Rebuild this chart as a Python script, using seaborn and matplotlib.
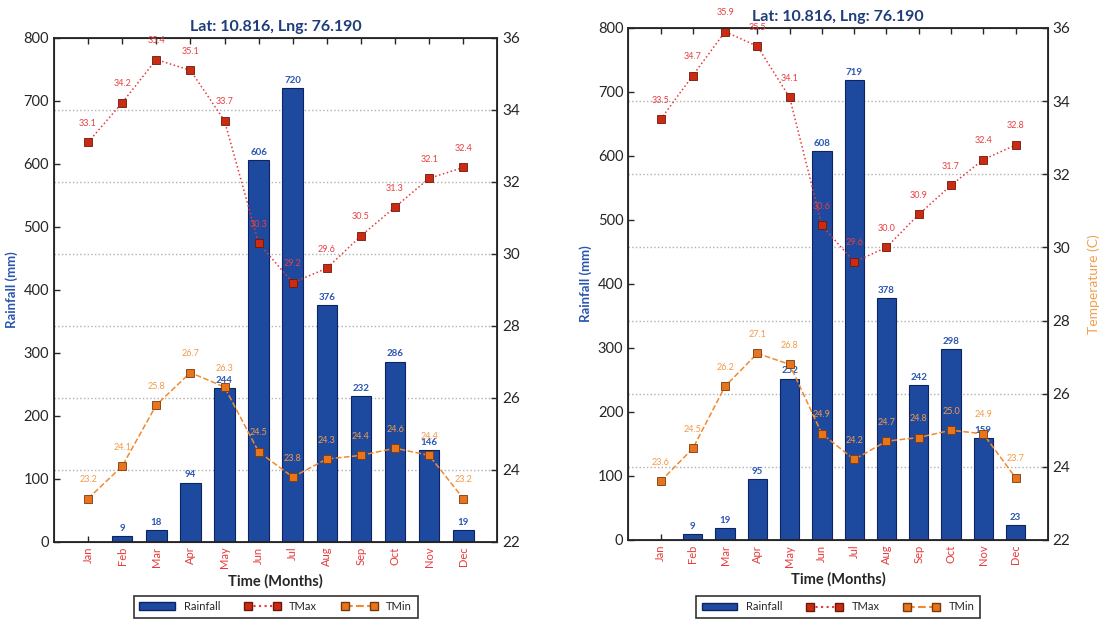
import numpy as np
import matplotlib
matplotlib.use('Agg')
import matplotlib.pyplot as plt
import seaborn as sns
from matplotlib.patches import Patch
from matplotlib.lines import Line2D

months = ['Jan', 'Feb', 'Mar', 'Apr', 'May', 'Jun',
          'Jul', 'Aug', 'Sep', 'Oct', 'Nov', 'Dec']
title = 'Lat: 10.816, Lng: 76.190'

# left panel
rain_a = [0, 9, 18, 94, 244, 606, 720, 376, 232, 286, 146, 19]
tmax_a = [33.1, 34.2, 35.4, 35.1, 33.7, 30.3, 29.2, 29.6, 30.5, 31.3, 32.1, 32.4]
tmin_a = [23.2, 24.1, 25.8, 26.7, 26.3, 24.5, 23.8, 24.3, 24.4, 24.6, 24.4, 23.2]

# right panel
rain_b = [0, 9, 19, 95, 252, 608, 719, 378, 242, 298, 159, 23]
tmax_b = [33.5, 34.7, 35.9, 35.5, 34.1, 30.6, 29.6, 30.0, 30.9, 31.7, 32.4, 32.8]
tmin_b = [23.6, 24.5, 26.2, 27.1, 26.8, 24.9, 24.2, 24.7, 24.8, 25.0, 24.9, 23.7]

temp_ticks = [22, 24, 26, 28, 30, 32, 34, 36]
rain_ticks = [0, 100, 200, 300, 400, 500, 600, 700, 800]

bar_col = '#1d4a9e'
bar_edge = '#0c2466'
max_col = '#e8383a'
max_face = '#cc2a12'
min_col = '#f08a30'
min_face = '#e8741e'

sns.set_style('ticks')
plt.rcParams['font.family'] = ['Lato', 'DejaVu Sans']

fig = plt.figure(figsize=(11.1, 6.22), dpi=100)


def draw_panel(rect, rain, tmax, tmin, temp_label, leg_y):
    ax = fig.add_axes(rect)
    pos = np.arange(len(months))

    # grid lines follow the temperature axis, drawn behind the bars
    for t in temp_ticks[1:-1]:
        ax.axhline((t - 22) / 14 * 800, color='#b0b0b0', linestyle=':', linewidth=1, zorder=0)

    sns.barplot(x=months, y=rain, ax=ax, color=bar_col, saturation=1, width=0.6,
                edgecolor=bar_edge, linewidth=0.8, zorder=2)
    for i, v in enumerate(rain):
        if v > 0:
            ax.text(i, v + 5, str(v), ha='center', va='bottom', fontsize=7,
                    color='#2a56b0', fontweight='bold', zorder=3)

    ax.set_xlim(-1, 12)
    ax.set_ylim(0, 800)
    ax.set_yticks(rain_ticks)
    ax.set_xticks(pos)
    ax.set_xticklabels(months, rotation=90, color='#e83a3a', fontsize=8)
    ax.tick_params(axis='y', labelsize=10.5)
    ax.tick_params(direction='in', top=True, length=4, width=1)
    ax.set_xlabel('Time (Months)', fontsize=10.5, fontweight='bold', labelpad=4)
    ax.set_ylabel('Rainfall (mm)', fontsize=9.5, fontweight='bold', color='#2a56b0')
    ax.set_title(title, fontsize=11.5, fontweight='bold', color='#1f3d7a', pad=5, zorder=5)
    for s in ax.spines.values():
        s.set_linewidth(1.3)
        s.set_color('#222222')

    ax2 = ax.twinx()
    sns.lineplot(x=pos, y=tmax, ax=ax2, color=max_col, linestyle=':', linewidth=1.1,
                 marker='s', markersize=6, markerfacecolor=max_face,
                 markeredgecolor='#6a1a08', markeredgewidth=0.6)
    sns.lineplot(x=pos, y=tmin, ax=ax2, color=min_col, linestyle='--', linewidth=1.1,
                 marker='s', markersize=6, markerfacecolor=min_face,
                 markeredgecolor='#7a3a08', markeredgewidth=0.6)
    for i in range(len(months)):
        ax2.text(i, tmax[i] + 0.4, f'{tmax[i]:.1f}', ha='center', va='bottom',
                 fontsize=6.5, color='#e84040')
        ax2.text(i, tmin[i] + 0.4, f'{tmin[i]:.1f}', ha='center', va='bottom',
                 fontsize=6.5, color='#f39a4a')
    ax2.set_ylim(22, 36)
    ax2.set_yticks(temp_ticks)
    ax2.tick_params(direction='in', length=4, width=1, labelsize=11)
    if temp_label:
        ax2.set_ylabel('Temperature (C)', fontsize=10, color='#f0a050', labelpad=12)
    else:
        ax2.set_ylabel('')
    ax2.set_xlim(-1, 12)

    handles = [
        Patch(facecolor=bar_col, edgecolor=bar_edge),
        Line2D([], [], color=max_col, linestyle=':', marker='s', markersize=6,
               markerfacecolor=max_face, markeredgecolor='#6a1a08'),
        Line2D([], [], color=min_col, linestyle='--', marker='s', markersize=6,
               markerfacecolor=min_face, markeredgecolor='#7a3a08'),
    ]
    leg = ax.legend(handles, ['Rainfall', 'TMax', 'TMin'], loc='center',
                    bbox_to_anchor=(0.5, leg_y), ncol=3, fontsize=8, numpoints=2,
                    handlelength=3.2, columnspacing=2.2, frameon=True, fancybox=False,
                    edgecolor='black', borderpad=0.5)
    leg.get_frame().set_linewidth(1.2)


draw_panel([0.0486, 0.129, 0.3995, 0.81], rain_a, tmax_a, tmin_a, False, -0.129)
draw_panel([0.566, 0.132, 0.378, 0.823], rain_b, tmax_b, tmin_b, True, -0.131)

fig.savefig('out.png', dpi=100)
